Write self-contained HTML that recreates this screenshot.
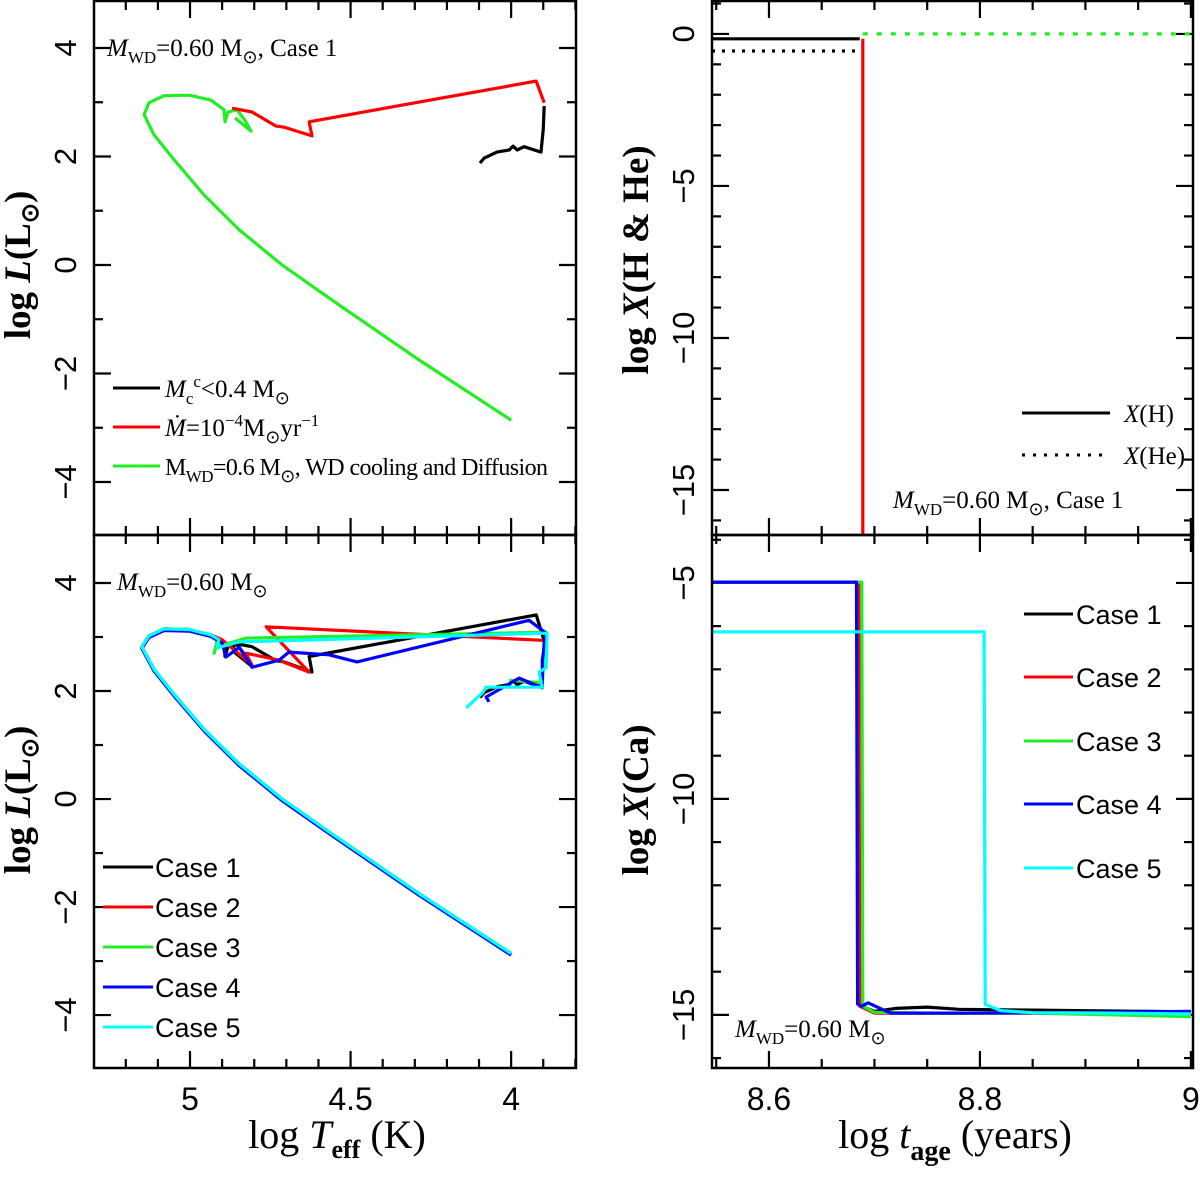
<!DOCTYPE html>
<html><head><meta charset="utf-8">
<style>
html,body{margin:0;padding:0;background:#fff;}
svg{display:block;}
</style></head>
<body>
<div style="position:relative;width:1200px;height:1199px;">
<svg id="fig" width="1200" height="1199" viewBox="0 0 1200 1199" xmlns="http://www.w3.org/2000/svg" style="position:absolute;left:0;top:0"></svg>
<script>
// ---------- DATA ----------
const tlBlackT=[4.097,4.084,4.044,4.006,3.994,3.981,3.960,3.907,3.900,3.897];
const tlBlackL=[1.88,1.97,2.08,2.12,2.19,2.12,2.18,2.08,2.49,2.93];
const tlRedT=[3.897,3.922,4.629,4.620,4.707,4.732,4.807,4.869];
const tlRedL=[2.99,3.39,2.64,2.38,2.54,2.56,2.82,2.89];
const tlGreenT=[4.860,4.810,4.829,4.854,4.882,4.891,4.894,4.935,5.003,5.081,5.128,5.143,5.112,5.050,4.956,4.847,4.713,4.567,4.287,4.000];
const tlGreenL=[2.71,2.47,2.67,2.86,2.82,2.64,2.86,3.04,3.13,3.12,2.99,2.77,2.40,1.94,1.29,0.65,0.00,-0.61,-1.75,-2.86];
const loopT=[4.935,5.003,5.081,5.128,5.150,5.112,5.050,4.956,4.847,4.713,4.567,4.287,4.000];
const loopL=[3.04,3.14,3.15,3.02,2.82,2.40,1.94,1.29,0.65,0.00,-0.61,-1.75,-2.86];
const c1T=[4.097,4.084,4.044,4.006,3.994,3.981,3.960,3.907,3.900,3.897,3.922,4.629,4.620,4.707,4.732,4.807,4.869,4.860,4.810,4.829,4.854,4.882,4.891,4.894];
const c1L=[1.88,1.97,2.08,2.12,2.19,2.12,2.18,2.08,2.49,2.93,3.41,2.64,2.35,2.54,2.56,2.82,2.89,2.71,2.47,2.67,2.86,2.82,2.64,2.86];
const c2T=[3.903,4.763,4.629,4.723,4.826,4.807,4.888,4.900];
const c2L=[2.94,3.19,2.35,2.57,2.70,2.48,2.89,2.95];
const c3T=[4.006,3.903,3.891,4.826,4.919,4.925,4.915];
const c3L=[2.20,2.15,3.09,2.98,2.81,2.70,2.95];
const c4T=[4.069,4.078,3.975,3.903,3.903,3.891,3.944,4.480,4.567,4.692,4.723,4.807,4.847,4.888,4.900];
const c4L=[1.80,1.89,2.24,2.06,2.57,3.07,3.31,2.54,2.67,2.72,2.57,2.44,2.81,2.63,2.89];
const c5T=[4.140,4.090,4.078,3.903,3.913,3.891,3.888,4.847,4.916,4.910];
const c5L=[1.69,1.96,2.07,2.07,2.35,2.43,3.07,2.91,2.80,2.95];
const hT=[8.546,8.686]; const hX=[-0.16,-0.16];
const hDropT=[8.689,8.689]; const hDropX=[-0.16,-16.6];
const heT=[8.546,8.686]; const heX=[-0.56,-0.56];
const heGreenT=[8.689,9.0]; const heGreenX=[0.0,0.0];
const ca1T=[8.546,8.685,8.686,8.70,8.72,8.75,8.78,8.85,9.0];
const ca1X=[-4.98,-4.98,-14.78,-14.92,-14.85,-14.82,-14.87,-14.89,-14.93];
const ca2T=[8.546,8.685,8.686,8.70,8.75,8.85,9.0];
const ca2X=[-4.98,-4.98,-14.80,-14.96,-14.96,-14.96,-14.98];
const ca3T=[8.546,8.688,8.689,8.70,8.75,8.85,9.0];
const ca3X=[-4.98,-4.98,-14.80,-14.94,-14.96,-14.96,-15.04];
const ca4T=[8.546,8.683,8.684,8.688,8.694,8.715,8.78,8.88,9.0];
const ca4X=[-4.98,-4.98,-14.75,-14.80,-14.72,-14.96,-14.96,-14.95,-14.92];
const ca5T=[8.546,8.804,8.805,8.82,8.85,8.92,9.0];
const ca5X=[-6.13,-6.13,-14.76,-14.90,-14.95,-14.96,-14.98];

// ---------- HELPERS ----------
const NS="http://www.w3.org/2000/svg";
const svg=document.getElementById('fig');
function mk(tag,attrs,parent){const e=document.createElementNS(NS,tag);for(const k in attrs)e.setAttribute(k,attrs[k]);(parent||svg).appendChild(e);return e;}
function scale(d0,d1,p0,p1){return v=>p0+(v-d0)*(p1-p0)/(d1-d0);}
const SANS='Liberation Sans, sans-serif';
const panels={
 tl:{x0:94,x1:576,y0:1,y1:535,xd:[5.299,3.798],yd:[4.866,-4.977]},
 bl:{x0:94,x1:576,y0:535,y1:1068,xd:[5.299,3.798],yd:[4.889,-4.98]},
 tr:{x0:712,x1:1193,y0:1,y1:535,xd:[8.546,9.002],yd:[1.083,-16.48]},
 br:{x0:712,x1:1193,y0:535,y1:1068,xd:[8.546,9.002],yd:[-3.89,-16.23]}
};
for(const k in panels){const p=panels[k];p.sx=scale(p.xd[0],p.xd[1],p.x0,p.x1);p.sy=scale(p.yd[0],p.yd[1],p.y0,p.y1);
 const cp=mk('clipPath',{id:'clip-'+k});mk('rect',{x:p.x0,y:p.y0,width:p.x1-p.x0,height:p.y1-p.y0},cp);}
function line(p,key,xs,ys,color,name,dash){
 const pts=xs.map((v,i)=>p.sx(v).toFixed(1)+','+p.sy(ys[i]).toFixed(1)).join(' ');
 const el=mk('polyline',{points:pts,fill:'none',stroke:color,'stroke-width':3.2,'stroke-linejoin':'round','clip-path':'url(#clip-'+key+')'});
 if(dash)el.setAttribute('stroke-dasharray',dash);
 
 
 return el;
}
function ticks(p,xmaj,xmin,ymaj,ymin){
 const g=mk('g',{stroke:'#000','stroke-width':2.2});
 
 
 const xs=Math.min(p.xd[0],p.xd[1]),xe=Math.max(p.xd[0],p.xd[1]);
 for(let v=Math.ceil(xs/xmin-1e-6)*xmin;v<=xe+1e-9;v+=xmin){
  const isMaj=Math.abs(v/xmaj-Math.round(v/xmaj))<1e-6;const L=isMaj?17:9;const x=p.sx(v);
  mk('line',{x1:x,y1:p.y1,x2:x,y2:p.y1-L},g);mk('line',{x1:x,y1:p.y0,x2:x,y2:p.y0+L},g);}
 const ys=Math.min(p.yd[0],p.yd[1]),ye=Math.max(p.yd[0],p.yd[1]);
 for(let v=Math.ceil(ys/ymin-1e-6)*ymin;v<=ye+1e-9;v+=ymin){
  const isMaj=Math.abs(v/ymaj-Math.round(v/ymaj))<1e-6;const L=isMaj?17:9;const y=p.sy(v);
  mk('line',{x1:p.x0,y1:y,x2:p.x0+L,y2:y},g);mk('line',{x1:p.x1,y1:y,x2:p.x1-L,y2:y},g);}
}
function frame(p,name){const r=mk('rect',{x:p.x0,y:p.y0,width:p.x1-p.x0,height:p.y1-p.y0,fill:'none',stroke:'#000','stroke-width':2.5});
 }
function ytick(p,vals,xc,name){vals.forEach(v=>{const y=p.sy(v);
 const t=mk('text',{x:0,y:0,'font-size':31,'font-family':SANS,'text-anchor':'middle',transform:`translate(${xc},${y}) rotate(-90) translate(0,10)`});
 t.textContent=(v<0?'\u2212':'')+Math.abs(v);});}
function xtick(p,vals,labels,name){vals.forEach((v,i)=>{const t=mk('text',{x:p.sx(v),y:1110,'font-size':32,'font-family':SANS,'text-anchor':'middle'});
 t.textContent=labels[i];});}

const P=panels;
ticks(P.tl,0.5,0.1,2,1);ticks(P.bl,0.5,0.1,2,1);ticks(P.tr,0.2,0.05,5,1);ticks(P.br,0.2,0.05,5,1);

line(P.tl,'tl',tlGreenT,tlGreenL,'#22ee22','series-wd-cooling');
line(P.tl,'tl',tlRedT,tlRedL,'#ff0000','series-mass-loss');
line(P.tl,'tl',tlBlackT,tlBlackL,'#000000','series-core-mass');
line(P.bl,'bl',c1T.concat(loopT),c1L.concat(loopL),'#000000','series-case-1');
line(P.bl,'bl',c2T.concat(loopT),c2L.concat(loopL),'#ff0000','series-case-2');
line(P.bl,'bl',c3T.concat(loopT),c3L.concat(loopL),'#22ee22','series-case-3');
line(P.bl,'bl',c4T.concat(loopT),c4L.concat(loopL.map(v=>v-0.03)),'#0000ff','series-case-4');
line(P.bl,'bl',c5T.concat(loopT),c5L.concat(loopL),'#00ffff','series-case-5');
line(P.tr,'tr',hT,hX,'#000000','series-x-h');
line(P.tr,'tr',heT,heX,'#000000','series-x-he','3,7');
line(P.tr,'tr',heGreenT,heGreenX,'#22ee22','series-x-he-envelope','5,9');
line(P.tr,'tr',hDropT,hDropX,'#ff0000','series-x-h-drop');
line(P.br,'br',ca1T,ca1X,'#000000','series-ca-case-1');
line(P.br,'br',ca2T,ca2X,'#ff0000','series-ca-case-2');
line(P.br,'br',ca3T,ca3X,'#22ee22','series-ca-case-3');
line(P.br,'br',ca4T,ca4X,'#0000ff','series-ca-case-4');
line(P.br,'br',ca5T,ca5X,'#00ffff','series-ca-case-5');

frame(P.tl,'panel-top-left');frame(P.bl,'panel-bottom-left');frame(P.tr,'panel-top-right');frame(P.br,'panel-bottom-right');

ytick(P.tl,[4,2,0,-2,-4],66,'y-tick-label');
ytick(P.bl,[4,2,0,-2,-4],66,'y-tick-label');
ytick(P.tr,[0,-5,-10,-15],684,'y-tick-label');
ytick(P.br,[-5,-10,-15],684,'y-tick-label');
xtick(P.bl,[5,4.5,4],['5','4.5','4'],'x-tick-label');
xtick(P.br,[8.6,8.8,9],['8.6','8.8','9'],'x-tick-label');

function leg(x1,x2,y,color,name,dash){const l=mk('line',{x1:x1,y1:y,x2:x2,y2:y,stroke:color,'stroke-width':3});
 if(dash)l.setAttribute('stroke-dasharray',dash);}
const cols=['#000000','#ff0000','#22ee22','#0000ff','#00ffff'];
[867,907,947,987,1027].forEach((y,i)=>{leg(103,153,y,cols[i],'legend-line-case-'+(i+1));
 const t=mk('text',{x:155,y:y+10,'font-size':27,'font-family':SANS});t.textContent='Case  '+(i+1);
 });
[614,677,741,804,868].forEach((y,i)=>{leg(1024,1073,y,cols[i],'legend-line-ca-case-'+(i+1));
 const t=mk('text',{x:1076,y:y+10,'font-size':27,'font-family':SANS});t.textContent='Case  '+(i+1);
 });
leg(113,160,388,'#000','legend-line-core-mass');leg(113,160,427,'#ff0000','legend-line-mass-loss');leg(113,160,466,'#22ee22','legend-line-wd-cooling');
leg(1022,1110,413,'#000','legend-line-x-h');leg(1022,1110,455,'#000','legend-line-x-he','3,8');
</script>
<svg width="1200" height="1199" style="position:absolute;left:0;top:0;pointer-events:none" xmlns="http://www.w3.org/2000/svg">
 <g font-family="Liberation Serif, serif" font-size="25">
  <text x="165" y="397"><tspan font-style="italic">M</tspan><tspan font-size="17" dy="7">c</tspan><tspan font-size="17" dy="-17">c</tspan><tspan dy="10">&lt;0.4  M</tspan><tspan font-size="18" dy="7">⊙</tspan></text>
  <text x="165" y="436"><tspan font-style="italic">Ṁ</tspan>=10<tspan font-size="17" dy="-10">−4</tspan><tspan dy="10">M</tspan><tspan font-size="18" dy="7">⊙</tspan><tspan dy="-7">yr</tspan><tspan font-size="17" dy="-10">−1</tspan></text>
  <text x="165" y="475" font-size="24" textLength="383">M<tspan font-size="17" dy="7">WD</tspan><tspan dy="-7">=0.6  M</tspan><tspan font-size="18" dy="7">⊙</tspan><tspan dy="-7">,  WD cooling and Diffusion</tspan></text>
  <text x="107" y="56"><tspan font-style="italic">M</tspan><tspan font-size="17" dy="7">WD</tspan><tspan dy="-7">=0.60  M</tspan><tspan font-size="18" dy="7">⊙</tspan><tspan dy="-7">,    Case 1</tspan></text>
  <text x="117" y="590"><tspan font-style="italic">M</tspan><tspan font-size="17" dy="7">WD</tspan><tspan dy="-7">=0.60  M</tspan><tspan font-size="18" dy="7">⊙</tspan></text>
  <text x="893" y="508"><tspan font-style="italic">M</tspan><tspan font-size="17" dy="7">WD</tspan><tspan dy="-7">=0.60  M</tspan><tspan font-size="18" dy="7">⊙</tspan><tspan dy="-7">,    Case 1</tspan></text>
  <text x="735" y="1037"><tspan font-style="italic">M</tspan><tspan font-size="17" dy="7">WD</tspan><tspan dy="-7">=0.60  M</tspan><tspan font-size="18" dy="7">⊙</tspan></text>
  <text x="1124" y="422"><tspan font-style="italic">X</tspan>(H)</text>
  <text x="1124" y="464"><tspan font-style="italic">X</tspan>(He)</text>
 </g>
 <g font-family="Liberation Serif, serif" font-size="37" font-weight="bold">
  <text transform="translate(30,265) rotate(-90)" text-anchor="middle">log  <tspan font-style="italic">L</tspan>(L<tspan font-size="24" dy="8">⊙</tspan><tspan dy="-8">)</tspan></text>
  <text transform="translate(30,800) rotate(-90)" text-anchor="middle">log  <tspan font-style="italic">L</tspan>(L<tspan font-size="24" dy="8">⊙</tspan><tspan dy="-8">)</tspan></text>
  <text transform="translate(648,260) rotate(-90)" text-anchor="middle">log  <tspan font-style="italic">X</tspan>(H  &amp;  He)</text>
  <text transform="translate(648,800) rotate(-90)" text-anchor="middle">log  <tspan font-style="italic">X</tspan>(Ca)</text>
  <text x="337" y="1148" text-anchor="middle" font-weight="normal" font-size="40">log  <tspan font-style="italic">T</tspan><tspan font-size="26" dy="10" font-weight="bold">eff</tspan><tspan dy="-10">   (K)</tspan></text>
  <text x="955" y="1148" text-anchor="middle" font-weight="normal" font-size="40">log  <tspan font-style="italic">t</tspan><tspan font-size="28" dy="12" font-weight="bold">age</tspan><tspan dy="-12">   (years)</tspan></text>
 </g>
</svg>
</div>
</body></html>
